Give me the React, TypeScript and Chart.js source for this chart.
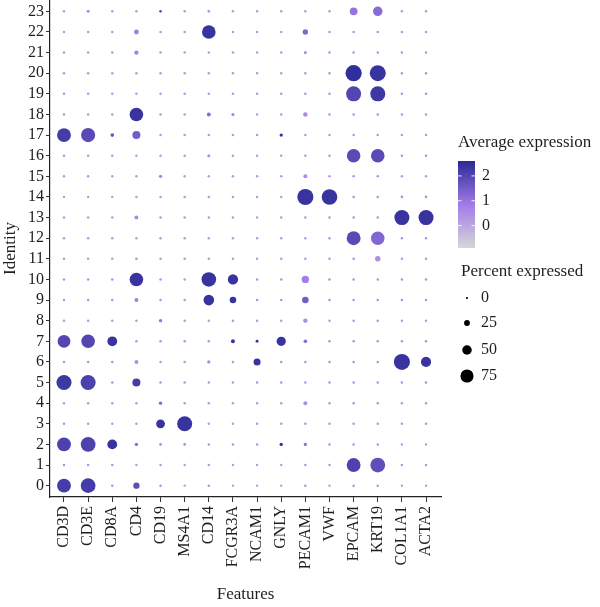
import React, { useEffect, useRef } from 'react';
import { Chart, registerables } from 'chart.js';
Chart.register(...registerables);

const features = ['CD3D', 'CD3E', 'CD8A', 'CD4', 'CD19', 'MS4A1', 'CD14', 'FCGR3A', 'NCAM1', 'GNLY', 'PECAM1', 'VWF', 'EPCAM', 'KRT19', 'COL1A1', 'ACTA2'];
const identities = ['0', '1', '2', '3', '4', '5', '6', '7', '8', '9', '10', '11', '12', '13', '14', '15', '16', '17', '18', '19', '20', '21', '22', '23'];

// percent expressed, one row per identity (0..23), columns follow `features`
const pctRows = [
  [80, 86, 2, 28, 2, 1, 2, 1, 1, 1, 2, 1, 2, 2, 1, 1],
  [2, 2, 2, 2, 2, 1, 2, 1, 1, 1, 2, 2, 80, 86, 2, 2],
  [80, 86, 52, 8, 3, 3, 2, 2, 2, 8, 7, 2, 2, 2, 1, 1],
  [2, 2, 2, 2, 45, 88, 2, 2, 2, 2, 2, 2, 2, 2, 2, 2],
  [2, 2, 2, 2, 8, 2, 2, 2, 2, 2, 12, 2, 2, 2, 2, 2],
  [88, 88, 2, 40, 2, 2, 2, 2, 2, 2, 2, 2, 2, 2, 2, 2],
  [2, 2, 2, 12, 2, 2, 8, 2, 33, 2, 2, 2, 2, 2, 95, 55],
  [72, 78, 52, 2, 2, 2, 2, 12, 5, 48, 10, 2, 2, 2, 2, 2],
  [2, 2, 2, 2, 8, 2, 2, 2, 2, 2, 15, 2, 2, 2, 2, 2],
  [2, 2, 2, 12, 2, 2, 58, 30, 2, 2, 30, 2, 2, 2, 2, 2],
  [2, 2, 2, 78, 2, 2, 85, 55, 2, 2, 35, 2, 2, 2, 2, 2],
  [2, 2, 2, 3, 2, 2, 2, 2, 2, 2, 2, 2, 2, 22, 2, 2],
  [2, 2, 2, 2, 2, 2, 2, 2, 2, 2, 2, 2, 80, 78, 2, 2],
  [2, 2, 2, 12, 2, 2, 2, 2, 2, 2, 2, 2, 2, 2, 88, 88],
  [1, 1, 1, 2, 2, 2, 2, 2, 2, 2, 95, 92, 2, 2, 3, 3],
  [2, 2, 2, 2, 8, 2, 2, 2, 2, 2, 12, 2, 2, 2, 2, 2],
  [2, 2, 2, 2, 2, 2, 6, 2, 2, 2, 2, 2, 78, 78, 2, 2],
  [80, 82, 10, 40, 2, 2, 2, 2, 2, 8, 2, 2, 2, 2, 2, 2],
  [2, 2, 2, 78, 2, 2, 12, 6, 2, 2, 15, 2, 2, 2, 2, 2],
  [2, 2, 2, 2, 2, 2, 2, 2, 2, 2, 2, 2, 88, 88, 2, 2],
  [2, 2, 2, 2, 2, 2, 2, 2, 2, 2, 2, 2, 96, 94, 2, 2],
  [2, 2, 2, 15, 2, 2, 2, 2, 2, 2, 6, 2, 2, 2, 2, 2],
  [2, 2, 2, 18, 2, 2, 78, 2, 2, 2, 22, 2, 2, 2, 2, 2],
  [2, 5, 2, 2, 4, 2, 3, 2, 2, 2, 2, 2, 38, 50, 2, 2],
];

// average expression (scaled), same layout
const exprRows = [
  [2.2, 2.2, 0.5, 1.8, 0.4, 0.3, 0.4, 0.3, 0.3, 0.3, 0.4, 0.3, 0.4, 0.4, 0.3, 0.3],
  [0.4, 0.4, 0.4, 0.3, 0.3, 0.3, 0.3, 0.3, 0.3, 0.3, 0.4, 0.4, 2.1, 1.8, 0.4, 0.4],
  [2.1, 2.1, 2.4, 1.2, 0.6, 0.6, 0.4, 0.4, 0.4, 2.4, 1.1, 0.4, 0.4, 0.4, 0.3, 0.3],
  [0.3, 0.3, 0.3, 0.3, 2.4, 2.4, 0.3, 0.3, 0.3, 0.3, 0.3, 0.3, 0.3, 0.3, 0.3, 0.3],
  [0.3, 0.3, 0.3, 0.3, 1.3, 0.3, 0.3, 0.3, 0.3, 0.3, 0.5, 0.3, 0.4, 0.4, 0.3, 0.3],
  [2.3, 2.1, 0.4, 2.2, 0.4, 0.4, 0.4, 0.4, 0.4, 0.4, 0.4, 0.4, 0.4, 0.4, 0.4, 0.4],
  [0.4, 0.4, 0.4, 0.5, 0.3, 0.3, 0.5, 0.4, 2.4, 0.4, 0.4, 0.4, 0.4, 0.4, 2.4, 2.4],
  [2.0, 2.0, 2.4, 0.4, 0.4, 0.4, 0.4, 2.4, 2.4, 2.4, 1.2, 0.4, 0.4, 0.4, 0.4, 0.4],
  [0.3, 0.3, 0.3, 0.3, 1.0, 0.3, 0.3, 0.3, 0.3, 0.3, 0.5, 0.3, 0.4, 0.4, 0.3, 0.3],
  [0.4, 0.4, 0.4, 0.8, 0.4, 0.3, 2.4, 2.4, 0.4, 0.4, 1.5, 0.4, 0.4, 0.4, 0.4, 0.4],
  [0.4, 0.4, 0.4, 2.4, 0.4, 0.3, 2.4, 2.4, 0.4, 0.4, 0.8, 0.4, 0.4, 0.4, 0.4, 0.4],
  [0.3, 0.3, 0.3, 0.4, 0.3, 0.3, 0.3, 0.3, 0.3, 0.3, 0.3, 0.3, 0.4, 0.5, 0.3, 0.3],
  [0.3, 0.3, 0.3, 0.3, 0.3, 0.3, 0.3, 0.3, 0.3, 0.3, 0.3, 0.3, 1.9, 1.3, 0.4, 0.4],
  [0.3, 0.3, 0.3, 0.6, 0.3, 0.3, 0.3, 0.3, 0.3, 0.3, 0.3, 0.3, 0.4, 0.4, 2.4, 2.4],
  [0.3, 0.3, 0.3, 0.3, 0.3, 0.3, 0.3, 0.3, 0.3, 0.3, 2.4, 2.4, 0.4, 0.4, 0.4, 0.4],
  [0.3, 0.3, 0.3, 0.3, 0.6, 0.3, 0.3, 0.3, 0.3, 0.3, 0.5, 0.3, 0.4, 0.4, 0.3, 0.3],
  [0.3, 0.3, 0.3, 0.3, 0.3, 0.3, 0.5, 0.3, 0.3, 0.3, 0.3, 0.3, 1.9, 1.9, 0.4, 0.4],
  [2.2, 1.9, 1.7, 1.5, 0.3, 0.3, 0.3, 0.3, 0.3, 2.4, 0.3, 0.3, 0.4, 0.4, 0.3, 0.3],
  [0.3, 0.3, 0.3, 2.4, 0.3, 0.3, 1.2, 0.8, 0.3, 0.3, 0.6, 0.3, 0.4, 0.4, 0.3, 0.3],
  [0.3, 0.3, 0.3, 0.3, 0.3, 0.3, 0.3, 0.3, 0.3, 0.3, 0.3, 0.3, 2.0, 2.3, 0.4, 0.4],
  [0.3, 0.3, 0.3, 0.3, 0.3, 0.3, 0.3, 0.3, 0.3, 0.3, 0.3, 0.3, 2.5, 2.4, 0.4, 0.4],
  [0.3, 0.3, 0.3, 0.7, 0.3, 0.3, 0.3, 0.3, 0.3, 0.3, 0.5, 0.3, 0.4, 0.4, 0.3, 0.3],
  [0.3, 0.3, 0.3, 0.8, 0.3, 0.3, 2.4, 0.3, 0.3, 0.3, 1.3, 0.3, 0.4, 0.4, 0.3, 0.3],
  [0.3, 0.8, 0.3, 0.3, 1.8, 0.3, 0.4, 0.3, 0.3, 0.3, 0.3, 0.3, 1.0, 1.2, 0.3, 0.3],
];

const colorTicks = [0, 1, 2];
const sizeTicks = [0, 25, 50, 75];
const EXPR_MIN = -0.9;
const EXPR_MAX = 2.6;

const FONT = '"Liberation Serif", "Times New Roman", serif';
const TEXT = '#1e1e1e';

const colorStops: [number, [number, number, number]][] = [
  [EXPR_MIN, [214, 214, 214]],
  [0.8, [164, 125, 232]],
  [EXPR_MAX, [42, 42, 150]],
];

function colorFor(v: number): string {
  const x = Math.max(EXPR_MIN, Math.min(EXPR_MAX, v));
  for (let i = 0; i < colorStops.length - 1; i++) {
    const [a, ca] = colorStops[i];
    const [b, cb] = colorStops[i + 1];
    if (x >= a && x <= b) {
      const t = (x - a) / (b - a);
      const c = ca.map((c0, k) => Math.round(c0 + (cb[k] - c0) * t));
      return `rgb(${c[0]},${c[1]},${c[2]})`;
    }
  }
  return 'rgb(42,42,150)';
}

function radiusFor(pct: number): number {
  return 1.1 + pct * 0.073;
}

// stretch the plot area up to the top edge of the canvas (as in the reference)
const topAlignPlugin = {
  id: 'topAlign',
  afterLayout(chart: any) {
    const y = chart.scales.y;
    if (y && y.top > 0) {
      y.top = 0;
      y.height = y.bottom;
      y.configure();
      chart.chartArea.top = 0;
      chart.chartArea.height = chart.chartArea.bottom;
    }
  },
};

const legendPlugin = {
  id: 'dotLegend',
  afterDraw(chart: any) {
    const ctx = chart.ctx as CanvasRenderingContext2D;
    ctx.save();
    ctx.fillStyle = TEXT;
    ctx.textBaseline = 'middle';
    ctx.textAlign = 'left';
    ctx.font = `17px ${FONT}`;
    ctx.fillText('Average expression', 458, 143);

    const bx = 458, bw = 17, top = 161, bottom = 248;
    const grad = ctx.createLinearGradient(0, bottom, 0, top);
    for (let i = 0; i <= 20; i++) {
      const v = EXPR_MIN + (EXPR_MAX - EXPR_MIN) * (i / 20);
      grad.addColorStop(i / 20, colorFor(v));
    }
    ctx.fillStyle = grad;
    ctx.fillRect(bx, top, bw, bottom - top);
    const yFor = (v: number) => bottom - ((v - EXPR_MIN) / (EXPR_MAX - EXPR_MIN)) * (bottom - top);
    ctx.font = `16px ${FONT}`;
    colorTicks.forEach((v) => {
      const y = yFor(v);
      ctx.strokeStyle = 'rgba(255,255,255,0.9)';
      ctx.lineWidth = 1;
      ctx.beginPath();
      ctx.moveTo(bx, y); ctx.lineTo(bx + 3.5, y);
      ctx.moveTo(bx + bw - 3.5, y); ctx.lineTo(bx + bw, y);
      ctx.stroke();
      ctx.fillStyle = TEXT;
      ctx.fillText(String(v), 482, y);
    });

    ctx.font = `17px ${FONT}`;
    ctx.fillText('Percent expressed', 461, 272);
    const ys = [298, 323, 350, 376];
    ctx.font = `16px ${FONT}`;
    sizeTicks.forEach((p, i) => {
      ctx.fillStyle = '#000';
      ctx.beginPath();
      ctx.arc(467, ys[i], radiusFor(p), 0, Math.PI * 2);
      ctx.fill();
      ctx.fillStyle = TEXT;
      ctx.fillText(String(p), 481, ys[i]);
    });
    ctx.restore();
  },
};

export default function App() {
  const ref = useRef<HTMLCanvasElement | null>(null);
  useEffect(() => {
    if (!ref.current) return;
    const points: any[] = [];
    const colors: string[] = [];
    identities.forEach((_, i) => {
      features.forEach((_, j) => {
        points.push({ x: j, y: i, r: radiusFor(pctRows[i][j]) });
        colors.push(colorFor(exprRows[i][j]));
      });
    });
    const chart = new Chart(ref.current, {
      type: 'bubble',
      data: {
        datasets: [
          {
            data: points,
            backgroundColor: colors,
            borderWidth: 0,
            hoverRadius: 0,
            clip: false,
          } as any,
        ],
      },
      options: {
        animation: false,
        responsive: false,
        events: [],
        layout: { padding: { left: 0, right: 159, top: 0, bottom: 0 } },
        plugins: { legend: { display: false }, tooltip: { enabled: false } },
        scales: {
          x: {
            type: 'linear',
            min: -0.58,
            max: 15.62,
            afterBuildTicks: (scale: any) => {
              scale.ticks = features.map((_, i) => ({ value: i }));
            },
            afterFit: (scale: any) => {
              scale.height = 110;
            },
            ticks: {
              autoSkip: false,
              minRotation: 90,
              maxRotation: 90,
              padding: 4,
              color: TEXT,
              font: { family: FONT, size: 16 },
              callback: (v: any) => features[Math.round(Number(v))] ?? '',
            },
            grid: { drawOnChartArea: false, drawTicks: true, tickLength: 5, color: '#333' },
            border: { display: true, color: '#222', width: 1.2 },
            title: { display: true, text: 'Features', color: TEXT, font: { family: FONT, size: 17 }, padding: { top: 0, bottom: 2 } },
          },
          y: {
            type: 'linear',
            min: -0.55,
            max: 23.55,
            afterBuildTicks: (scale: any) => {
              scale.ticks = identities.map((_, i) => ({ value: i }));
            },
            afterFit: (scale: any) => {
              scale.width = 50;
            },
            ticks: {
              autoSkip: false,
              padding: 2,
              color: TEXT,
              font: { family: FONT, size: 16 },
              callback: (v: any) => identities[Math.round(Number(v))] ?? '',
            },
            grid: { drawOnChartArea: false, drawTicks: true, tickLength: 4, color: '#333' },
            border: { display: true, color: '#222', width: 1.2 },
            title: { display: true, text: 'Identity', color: TEXT, font: { family: FONT, size: 17 }, padding: { top: 0, bottom: 0 } },
          },
        },
      },
      plugins: [topAlignPlugin, legendPlugin],
    });
    return () => chart.destroy();
  }, []);
  return (
    <div style={{ position: 'fixed', left: 0, top: 0, width: 600, height: 607, background: '#fff' }}>
      <canvas ref={ref} width={600} height={607} style={{ display: 'block' }} />
    </div>
  );
}
